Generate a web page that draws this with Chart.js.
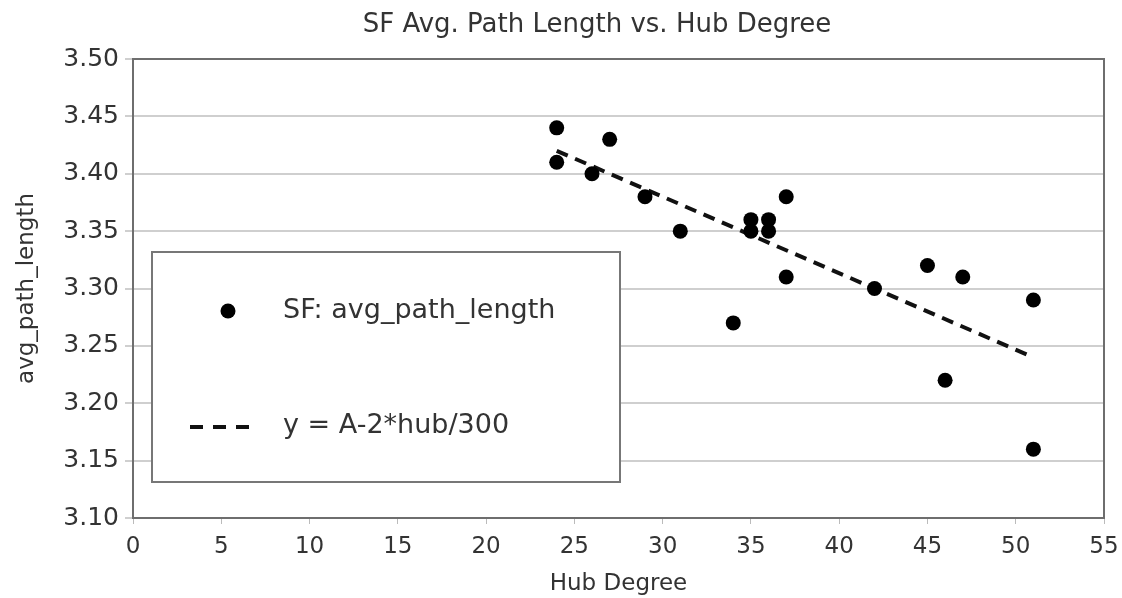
<!DOCTYPE html>
<html>
<head>
<meta charset="utf-8">
<script src="https://cdn.jsdelivr.net/npm/chart.js@4.4.1/dist/chart.umd.min.js"></script>
<style>
  html, body { margin: 0; padding: 0; background: #fff; }
  #wrap { width: 1122px; height: 598px; position: relative; }
</style>
</head>
<body>
<div id="wrap"><canvas id="chart" width="1122" height="598"></canvas></div>
<script>
// Hub degree of each network and its measured average path length
const hubDegree = [24, 24, 26, 27, 29, 31, 34, 35, 35, 36, 36, 37, 37, 42, 45, 46, 47, 51, 51];
const avgPathLength = [3.44, 3.41, 3.40, 3.43, 3.38, 3.35, 3.27, 3.36, 3.35, 3.36, 3.35, 3.38, 3.31, 3.30, 3.32, 3.22, 3.31, 3.29, 3.16];

// Reference line y = A - 2*hub/300, end points
const trendHub = [24, 51];
const trendY = [3.42, 3.24];

const xTicks = [0, 5, 10, 15, 20, 25, 30, 35, 40, 45, 50, 55];
const yTicks = [3.10, 3.15, 3.20, 3.25, 3.30, 3.35, 3.40, 3.45, 3.50];

const chartTitle = 'SF Avg. Path Length vs. Hub Degree';
const xTitle = 'Hub Degree';
const yTitle = 'avg_path_length';
const seriesNames = ['SF: avg_path_length', 'y = A-2*hub/300'];

const FONT = "'DejaVu Sans', Verdana, sans-serif";
const TEXT = '#333';

const scatterPoints = hubDegree.map((h, i) => ({ x: h, y: avgPathLength[i] }));
const trendPoints = trendHub.map((h, i) => ({ x: h, y: trendY[i] }));

// Title, frame and boxed legend drawn on the canvas
const decor = {
  id: 'decor',
  afterDraw(chart) {
    const ctx = chart.ctx;
    const a = chart.chartArea;
    ctx.save();
    // plot frame
    ctx.strokeStyle = '#6e6e6e';
    ctx.lineWidth = 2;
    ctx.strokeRect(a.left, a.top, a.right - a.left, a.bottom - a.top);

    // title
    ctx.fillStyle = TEXT;
    ctx.font = '26px ' + FONT;
    ctx.textAlign = 'center';
    ctx.textBaseline = 'middle';
    ctx.fillText(chartTitle, 597, 25);

    // legend box
    ctx.fillStyle = '#fff';
    ctx.fillRect(152, 252, 468, 230);
    ctx.strokeStyle = '#777';
    ctx.lineWidth = 2;
    ctx.strokeRect(152, 252, 468, 230);

    ctx.fillStyle = '#000';
    ctx.beginPath();
    ctx.arc(228, 311, 7.5, 0, Math.PI * 2);
    ctx.fill();

    ctx.strokeStyle = '#111';
    ctx.lineWidth = 4;
    ctx.setLineDash([13, 10]);
    ctx.beginPath();
    ctx.moveTo(190, 427);
    ctx.lineTo(250, 427);
    ctx.stroke();
    ctx.setLineDash([]);

    ctx.fillStyle = TEXT;
    ctx.font = '27px ' + FONT;
    ctx.textAlign = 'left';
    ctx.textBaseline = 'middle';
    ctx.fillText(seriesNames[0], 283, 311);
    ctx.fillText(seriesNames[1], 283, 426);
    ctx.restore();
  }
};

new Chart(document.getElementById('chart'), {
  type: 'scatter',
  data: {
    datasets: [
      {
        label: seriesNames[0],
        data: scatterPoints,
        pointRadius: 7.5,
        pointHoverRadius: 7.5,
        pointBackgroundColor: '#000',
        pointBorderColor: '#000',
        pointBorderWidth: 0,
        showLine: false,
        order: 1
      },
      {
        label: seriesNames[1],
        data: trendPoints,
        showLine: true,
        borderColor: '#111',
        borderWidth: 4,
        borderDash: [12, 8],
        pointRadius: 0,
        fill: false,
        order: 2
      }
    ]
  },
  options: {
    responsive: false,
    animation: false,
    layout: { padding: { top: 59, right: 18, left: 0, bottom: 0 } },
    plugins: {
      legend: { display: false },
      title: { display: false },
      tooltip: { enabled: false }
    },
    scales: {
      x: {
        type: 'linear',
        min: 0,
        max: 55,
        afterBuildTicks(scale) { scale.ticks = xTicks.map(v => ({ value: v })); },
        afterFit(scale) {
          scale.height = 80;
          scale.paddingLeft = 0;
          scale.paddingRight = 0;
        },
        ticks: {
          color: TEXT,
          font: { family: FONT, size: 23 },
          padding: 9,
          maxRotation: 0
        },
        grid: { drawOnChartArea: false, drawTicks: true, tickLength: 6, color: '#bbb', lineWidth: 1 },
        border: { display: true, color: '#6e6e6e', width: 2 },
        title: {
          display: true,
          text: xTitle,
          color: TEXT,
          font: { family: FONT, size: 23 },
          padding: { top: 0, bottom: 0 }
        }
      },
      y: {
        type: 'linear',
        min: 3.1,
        max: 3.5,
        afterBuildTicks(scale) { scale.ticks = yTicks.map(v => ({ value: v })); },
        afterFit(scale) {
          scale.width = 133;
          scale.paddingTop = 0;
          scale.paddingBottom = 0;
        },
        ticks: {
          color: TEXT,
          font: { family: FONT, size: 25 },
          padding: 6,
          callback: v => Number(v).toFixed(2)
        },
        grid: { color: '#cfcfcf', lineWidth: 2, tickLength: 8, drawTicks: true },
        border: { display: true, color: '#6e6e6e', width: 2 },
        title: {
          display: true,
          text: yTitle,
          color: TEXT,
          font: { family: FONT, size: 23 },
          padding: { top: 13, bottom: 0 }
        }
      }
    }
  },
  plugins: [decor]
});
</script>
</body>
</html>
